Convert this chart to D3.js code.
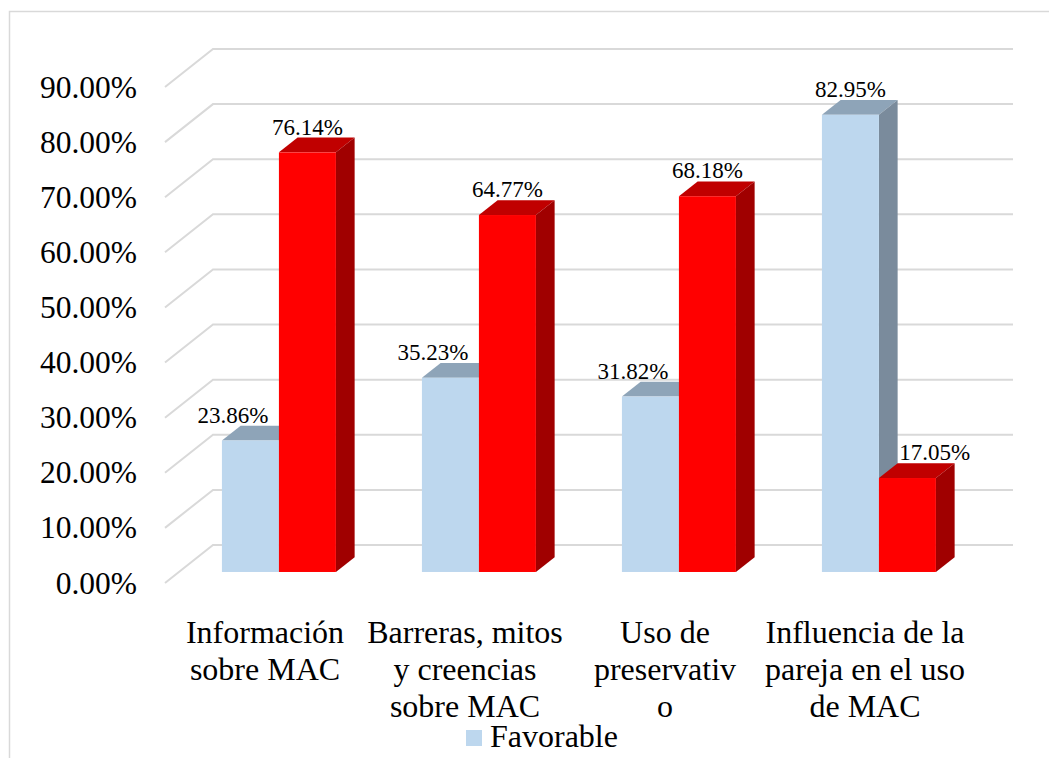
<!DOCTYPE html>
<html>
<head>
  <meta charset="utf-8">
  <title>Favorable / Desfavorable – MAC</title>
  <script src="https://d3js.org/d3.v7.min.js"></script>
  <style>
    html, body {
      margin: 0;
      padding: 0;
      background: #fff;
    }
    svg {
      display: block;
    }
    text {
      font-family: "Liberation Serif", "Times New Roman", serif;
    }
    .grid {
      stroke: #d9d9d9;
      stroke-width: 2px;
      fill: none;
    }
    .tick text {
      font-family: "Liberation Serif", "Times New Roman", serif;
      font-size: 31.5px;
      fill: #000;
    }
    .cat {
      font-size: 32px;
      fill: #000;
    }
    .val {
      font-size: 23px;
      fill: #000;
    }
  </style>
</head>
<body>
  <svg width="1049" height="758"></svg>

  <script>
    // data
    const categories = [
      "Información sobre MAC",
      "Barreras, mitos y creencias sobre MAC",
      "Uso de preservativo",
      "Influencia de la pareja en el uso de MAC"
    ];
    // how the tick labels wrap in the picture
    const categoryLines = [
      ["Información", "sobre MAC"],
      ["Barreras, mitos", "y creencias", "sobre MAC"],
      ["Uso de", "preservativ", "o"],
      ["Influencia de la", "pareja en el uso", "de MAC"]
    ];
    const seriesNames = ["Favorable", "Desfavorable"];
    const favorable = [23.86, 35.23, 31.82, 82.95];
    const desfavorable = [76.14, 64.77, 68.18, 17.05];
    const yTicks = [0, 10, 20, 30, 40, 50, 60, 70, 80, 90];

    const serif = '"Liberation Serif", "Times New Roman", serif';
    const svg = d3.select("svg");
    const width = 1049, height = 758;

    // outer chart border (cut off at right and bottom)
    svg.append("rect")
      .attr("x", 9.5).attr("y", 11.5)
      .attr("width", width).attr("height", height)
      .attr("fill", "#fff")
      .attr("stroke", "#d9d9d9")
      .attr("stroke-width", 1.5);

    // back wall coordinates + depth vector towards the viewer
    const depthX = -48, depthY = 38;
    const backLeft = 213, backRight = 1013;
    const y = d3.scaleLinear().domain([0, 90]).range([545, 49]);
    const yFront = d3.scaleLinear().domain([0, 90]).range([545 + depthY, 49 + depthY]);

    const x0 = d3.scaleBand()
      .domain(categories)
      .range([backLeft, backRight])
      .paddingInner(0.43)
      .paddingOuter(0.215);
    const x1 = d3.scaleBand()
      .domain(seriesNames)
      .range([0, x0.bandwidth()]);

    const proj = (xb, v, t) => [xb + depthX * t, y(v) + depthY * t];

    // gridlines: side wall diagonal + back wall horizontal
    const grid = svg.append("g");
    yTicks.forEach(v => {
      const f = proj(backLeft, v, 1);
      grid.append("path")
        .attr("class", "grid")
        .attr("d", `M${f[0]},${f[1]}L${backLeft},${y(v)}L${backRight},${y(v)}`);
    });

    // y axis labels on the front edge of the side wall
    svg.append("g")
      .attr("transform", `translate(${backLeft + depthX},0)`)
      .call(d3.axisLeft(yFront)
        .tickValues(yTicks)
        .tickFormat(d => d.toFixed(2) + "%")
        .tickSize(0)
        .tickPadding(28))
      .attr("font-family", serif)
      .call(g => g.select(".domain").remove());

    const colors = {
      Favorable: { front: "#bdd7ee", top: "#8ea4b8", side: "#7a8b9c" },
      Desfavorable: { front: "#ff0000", top: "#c00000", side: "#a00000" }
    };

    const rows = categories.map((c, i) => ({
      cat: c,
      values: [
        { name: "Favorable", v: favorable[i] },
        { name: "Desfavorable", v: desfavorable[i] }
      ]
    }));

    const tF = 0.71, tB = 0.32; // bar depth inside the floor
    const bw = x1.bandwidth();
    const poly = pts => "M" + pts.map(p => p.join(",")).join("L") + "Z";

    const bars = svg.append("g");
    const labels = [];
    rows.forEach(row => {
      row.values.forEach((d, j) => {
        const xa = x0(row.cat) + x1(d.name);
        const xb = xa + bw;
        const c = colors[d.name];
        const g = bars.append("g");
        g.append("path").attr("fill", c.top)
          .attr("d", poly([proj(xa, d.v, tF), proj(xb, d.v, tF), proj(xb, d.v, tB), proj(xa, d.v, tB)]));
        g.append("path").attr("fill", c.side)
          .attr("d", poly([proj(xb, d.v, tF), proj(xb, d.v, tB), proj(xb, 0, tB), proj(xb, 0, tF)]));
        const ft = proj(xa, d.v, tF), fb = proj(xb, 0, tF);
        g.append("rect").attr("fill", c.front)
          .attr("x", ft[0]).attr("y", ft[1])
          .attr("width", fb[0] - ft[0]).attr("height", fb[1] - ft[1]);

        // label above the bar, pushed aside when the neighbour bar is taller
        const other = row.values[1 - j];
        let cx = (ft[0] + fb[0]) / 2;
        const lw = 72;
        if (other.v > d.v) {
          if (j === 1) {
            const edge = proj(xa, 0, tB)[0] + 1;
            cx = Math.max(cx, edge + lw / 2);
          } else {
            const edge = proj(xb, 0, tF)[0] - 10;
            cx = Math.min(cx, edge - lw / 2);
          }
        }
        labels.push({ x: cx, y: proj(xa, d.v, tB)[1] - 3, text: d.v.toFixed(2) + "%" });
      });
    });

    svg.append("g").selectAll("text")
      .data(labels)
      .join("text")
      .attr("class", "val")
      .attr("font-family", serif)
      .attr("text-anchor", "middle")
      .attr("x", d => d.x)
      .attr("y", d => d.y)
      .text(d => d.text);

    // category labels centred under the front edge of the floor
    const catG = svg.append("g");
    categories.forEach((c, i) => {
      const cx = x0(c) + x0.bandwidth() / 2 + depthX;
      const t = catG.append("text")
        .attr("class", "cat")
        .attr("font-family", serif)
        .attr("text-anchor", "middle")
        .attr("x", cx)
        .attr("y", 643);
      categoryLines[i].forEach((line, k) => {
        t.append("tspan").attr("x", cx).attr("dy", k === 0 ? 0 : 37).text(line);
      });
    });

    // legend (only the first entry is inside the picture)
    const leg = svg.append("g").attr("transform", "translate(466,730)");
    leg.append("rect").attr("width", 16).attr("height", 16).attr("fill", colors.Favorable.front);
    leg.append("text").attr("class", "cat").attr("font-family", serif)
      .attr("x", 24).attr("y", 17).text(seriesNames[0]);
  </script>
</body>
</html>
